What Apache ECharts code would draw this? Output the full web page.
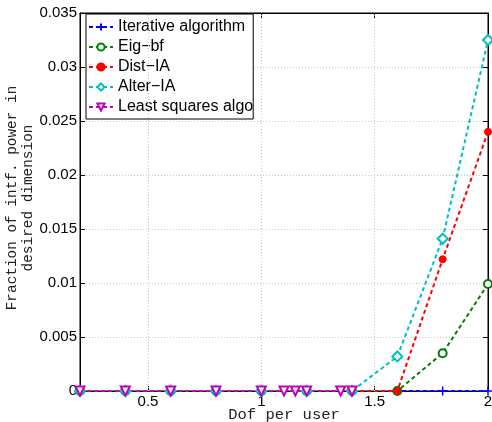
<!DOCTYPE html>
<html>
<head>
<meta charset="utf-8">
<script src="https://cdn.jsdelivr.net/npm/echarts@6/dist/echarts.min.js"></script>
<style>
  html, body { margin: 0; padding: 0; background: #fff; }
  #chart { width: 492px; height: 422px; }
</style>
</head>
<body>
<div id="chart"></div>
<script>
// values
const dof = [0.2, 0.4, 0.6, 0.8, 1.0, 1.2, 1.4, 1.6, 1.8, 2.0]
const iterative = [0, 0, 0, 0, 0, 0, 0, 0, 0, 0]
const eigBf = [0, 0, 0, 0, 0, 0, 0, 0, 0.0035, 0.0099]
const distIA = [0, 0, 0, 0, 0, 0, 0, 0, 0.0122, 0.0240]
const alterIA = [0, 0, 0, 0, 0, 0, 0, 0.0032, 0.0141, 0.0325]
const lsDof = [0.2, 0.4, 0.6, 0.8, 1.0, 1.1, 1.15, 1.2, 1.35, 1.4]
const leastSq = [0, 0, 0, 0, 0, 0, 0, 0, 0, 0]

const xTicks = [0.5, 1, 1.5, 2]
const xTitle = 'Dof per user'
const yTitle = 'Fraction of intf. power in\ndesired dimension'

const pairs = (xs, ys) => xs.map((x, i) => [x, ys[i]])

const myChart = echarts.init(document.getElementById('chart'))

const mkSeries = (name, xs, ys, color, symbol, fill, size, bw) => ({
  name,
  type: 'line',
  data: pairs(xs, ys),
  clip: false,
  symbol,
  symbolSize: size,
  showAllSymbol: true,
  lineStyle: {color, width: 2, type: [4, 3]},
  itemStyle: {color: fill, borderColor: color, borderWidth: bw},
  z: 3,
})

const axisBase = {
  type: 'value',
  min: 0.2,
  max: 2,
}

const option = {
  animation: false,
  backgroundColor: '#fff',
  grid: {
    left: 80,
    right: 4,
    top: 13,
    bottom: 31,
    outerBoundsMode: 'none',
    containLabel: false,
    show: true,
    borderColor: '#000',
    borderWidth: 1,
  },
  // axis titles (placed by hand, the axis name layout kept ignoring nameGap)
  graphic: [
    {
      type: 'text',
      x: 284,
      y: 415,
      style: {
        text: xTitle,
        font: '15.5px "Liberation Mono"',
        fill: '#222',
        textAlign: 'center',
        textVerticalAlign: 'middle',
      },
    },
    {
      type: 'text',
      x: 20,
      y: 198,
      rotation: Math.PI / 2,
      style: {
        text: yTitle,
        font: '14.4px "Liberation Mono"',
        lineHeight: 16,
        fill: '#222',
        textAlign: 'center',
        textVerticalAlign: 'middle',
      },
    },
  ],
  legend: {
    orient: 'vertical',
    left: 86,
    top: 14,
    itemGap: 4,
    itemWidth: 24,
    itemHeight: 9,
    padding: [5, 0, 4, 2],
    backgroundColor: '#fff',
    borderColor: '#000',
    borderWidth: 1,
    borderRadius: 0,
    textStyle: {fontFamily: 'Liberation Sans', fontSize: 16, color: '#000'},
    data: ['Iterative algorithm', 'Eig-bf', 'Dist-IA', 'Alter-IA', 'Least squares algo'],
    formatter: (n) => n.replace('-', '\u2212'),
  },
  xAxis: [
    {
      ...axisBase,
      axisLine: {onZero: false, lineStyle: {color: '#000'}},
      axisTick: {inside: true, length: 5, customValues: xTicks, lineStyle: {color: '#000'}},
      axisLabel: {
        customValues: xTicks,
        fontFamily: 'Liberation Sans', fontSize: 15, color: '#000', margin: 3,
        formatter: (v) => String(v),
      },
      splitLine: {show: false},
    },
    {
      ...axisBase,
      position: 'top',
      axisLine: {onZero: false, lineStyle: {color: '#000'}},
      axisTick: {inside: true, length: 5, customValues: xTicks, lineStyle: {color: '#000'}},
      axisLabel: {show: false},
      splitLine: {show: false},
    },
  ],
  yAxis: [
    {
      type: 'value',
      min: 0,
      max: 0.035,
      interval: 0.005,
      axisLine: {show: true, onZero: false, lineStyle: {color: '#000'}},
      axisTick: {show: true, inside: true, length: 5, lineStyle: {color: '#000'}},
      axisLabel: {fontFamily: 'Liberation Sans', fontSize: 15, color: '#000', margin: 3,
        formatter: (v) => String(+v.toFixed(3))},
      splitLine: {show: true, lineStyle: {color: '#c8c8c8', type: [1, 2]}},
    },
    {
      type: 'value',
      min: 0,
      max: 0.035,
      interval: 0.005,
      position: 'right',
      axisLine: {show: true, onZero: false, lineStyle: {color: '#000'}},
      axisTick: {show: true, inside: true, length: 5, lineStyle: {color: '#000'}},
      axisLabel: {show: false},
      splitLine: {show: false},
    },
  ],
  series: [
    // vertical grid lines at the x ticks
    {
      type: 'line',
      data: [],
      silent: true,
      markLine: {
        symbol: 'none',
        silent: true,
        label: {show: false},
        lineStyle: {color: '#c8c8c8', type: [1, 2], width: 1},
        data: xTicks.slice(0, 3).map(v => ({xAxis: v})),
      },
    },
    mkSeries('Iterative algorithm', dof, iterative, '#0000ff', 'path://M0,5L10,5M5,0L5,10', '#0000ff', 9, 1.5),
    mkSeries('Eig-bf', dof, eigBf, '#008000', 'emptyCircle', '#008000', 8, 2),
    mkSeries('Dist-IA', dof, distIA, '#ff0000', 'circle', '#ff0000', 7, 1),
    mkSeries('Alter-IA', dof, alterIA, '#00bfbf', 'emptyDiamond', '#00bfbf', 10, 2),
    mkSeries('Least squares algo', lsDof, leastSq, '#bf00bf', 'path://M0,0L10,0L5,9Z', '#fff', 9, 2),
  ],
}

option && myChart.setOption(option)
</script>
</body>
</html>
